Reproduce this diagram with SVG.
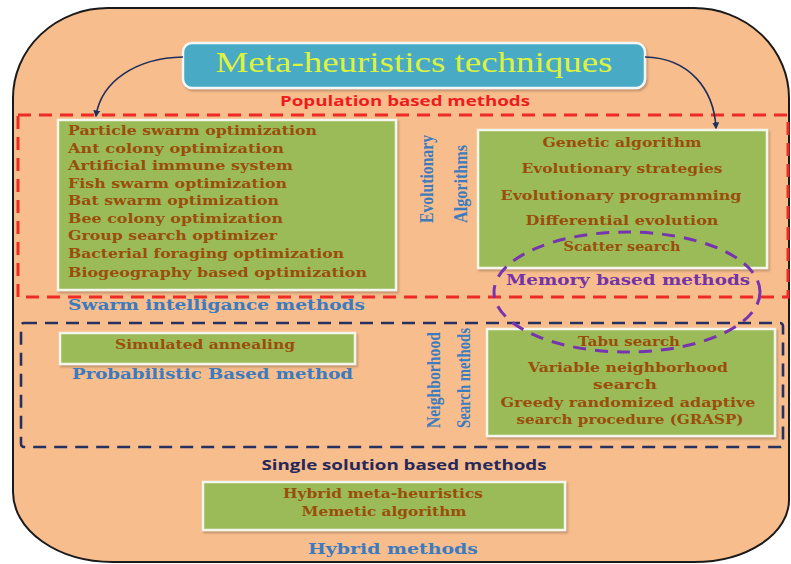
<svg xmlns="http://www.w3.org/2000/svg" width="791" height="564" viewBox="0 0 791 564">
  <defs>
    <marker id="arrowhead" viewBox="0 0 10 10" refX="8" refY="5" markerWidth="7" markerHeight="7" orient="auto-start-reverse" markerUnits="userSpaceOnUse">
      <path d="M0,0 L10,5 L0,10 z" fill="#1F2F5C"/>
    </marker>
    <filter id="shadow" x="-5%" y="-5%" width="115%" height="125%">
      <feDropShadow dx="1.5" dy="2" stdDeviation="1.2" flood-color="#7a5a40" flood-opacity="0.45"/>
    </filter>
  </defs>
  <style>
    .panel { fill: #9BBB59; stroke: #F4F6EC; stroke-width: 2.5; filter: url(#shadow); }
    .item { font-family: "DejaVu Serif", "Liberation Serif", serif; font-weight: bold; font-size: 13px; fill: #9A4E0C; }
    .memory { font-family: "DejaVu Serif", "Liberation Serif", serif; font-weight: bold; font-size: 15px; fill: #7434A6; }
    .mid { text-anchor: middle; }
    .group-label { font-family: "DejaVu Serif", "Liberation Serif", serif; font-weight: bold; font-size: 15px; fill: #3B7BBE; }
    .side-label { font-family: "Liberation Serif", "DejaVu Serif", serif; font-weight: bold; font-size: 19px; fill: #3B7BBE; }
    .sans-label { font-family: "Open Sans", "Liberation Sans", sans-serif; font-weight: bold; font-size: 14px; }
    .connector { fill: none; stroke: #1F2F5C; stroke-width: 1.6; }
  </style>

  <!-- outer rounded container -->
  <path d="M 108,8 H 694 A 95 90 0 0 1 789 98 V 500 A 95 62 0 0 1 694 562 H 113 A 100 70 0 0 1 13 492 V 98 A 95 90 0 0 1 108 8 Z"
        fill="#F8BD8D" stroke="#1A1A1A" stroke-width="2"/>

  <!-- population-based region -->
  <g id="population-region">
    <rect x="18" y="115" width="770" height="182" fill="none" stroke="#EE2A24" stroke-width="3" stroke-dasharray="13 8"/>
    <text class="sans-label mid" x="405" y="106" fill="#EE1C1C" textLength="250" lengthAdjust="spacingAndGlyphs">Population based methods</text>
  </g>

  <!-- single-solution region -->
  <g id="single-solution-region">
    <rect x="21" y="323" width="762" height="124" rx="3" fill="none" stroke="#27315F" stroke-width="2.6" stroke-dasharray="13 8"/>
    <text class="sans-label mid" x="404" y="470" fill="#27285A" textLength="285" lengthAdjust="spacingAndGlyphs">Single solution based methods</text>
  </g>

  <!-- root node -->
  <g id="meta-heuristics">
    <rect x="183" y="43" width="462" height="45" rx="9" fill="#4AAAC6" stroke="#F2F7FA" stroke-width="2.5" filter="url(#shadow)"/>
    <text x="414" y="72" text-anchor="middle" font-family="Liberation Serif, serif" font-size="29" fill="#DDF23C" textLength="397" lengthAdjust="spacingAndGlyphs">Meta-heuristics techniques</text>
  </g>

  <!-- swarm intelligence -->
  <g id="swarm-intelligence">
    <rect class="panel" x="58" y="120" width="338" height="170"/>
    <text class="item" x="68" y="135" textLength="249" lengthAdjust="spacingAndGlyphs">Particle swarm optimization</text>
    <text class="item" x="68" y="152.5" textLength="216" lengthAdjust="spacingAndGlyphs">Ant colony optimization</text>
    <text class="item" x="68" y="170" textLength="225" lengthAdjust="spacingAndGlyphs">Artificial immune system</text>
    <text class="item" x="68" y="187.5" textLength="219" lengthAdjust="spacingAndGlyphs">Fish swarm optimization</text>
    <text class="item" x="68" y="205" textLength="211" lengthAdjust="spacingAndGlyphs">Bat swarm optimization</text>
    <text class="item" x="68" y="222.5" textLength="215" lengthAdjust="spacingAndGlyphs">Bee colony optimization</text>
    <text class="item" x="68" y="240" textLength="209" lengthAdjust="spacingAndGlyphs">Group search optimizer</text>
    <text class="item" x="68" y="258" textLength="276" lengthAdjust="spacingAndGlyphs">Bacterial foraging optimization</text>
    <text class="item" x="68" y="277" textLength="299" lengthAdjust="spacingAndGlyphs">Biogeography based optimization</text>
    <text class="group-label" x="68" y="310" textLength="297" lengthAdjust="spacingAndGlyphs">Swarm intelligance methods</text>
  </g>

  <!-- evolutionary algorithms -->
  <g id="evolutionary-algorithms">
    <rect class="panel" x="478" y="130" width="289" height="138"/>
    <text class="item mid" x="622" y="147" textLength="159" lengthAdjust="spacingAndGlyphs">Genetic algorithm</text>
    <text class="item mid" x="622" y="173" textLength="201" lengthAdjust="spacingAndGlyphs">Evolutionary strategies</text>
    <text class="item mid" x="621" y="200" textLength="241" lengthAdjust="spacingAndGlyphs">Evolutionary programming</text>
    <text class="item mid" x="622" y="225" textLength="193" lengthAdjust="spacingAndGlyphs">Differential evolution</text>
    <text class="item mid" x="622" y="251" textLength="117" lengthAdjust="spacingAndGlyphs">Scatter search</text>
    <text class="side-label" transform="translate(433,223) rotate(-90)" textLength="88" lengthAdjust="spacingAndGlyphs">Evolutionary</text>
    <text class="side-label" transform="translate(467,223) rotate(-90)" textLength="78" lengthAdjust="spacingAndGlyphs">Algorithms</text>
  </g>

  <!-- probabilistic -->
  <g id="probabilistic">
    <rect class="panel" x="60" y="333" width="295" height="31"/>
    <text class="item mid" x="205" y="349" textLength="180" lengthAdjust="spacingAndGlyphs">Simulated annealing</text>
    <text class="group-label" x="72" y="379" textLength="281" lengthAdjust="spacingAndGlyphs">Probabilistic Based method</text>
  </g>

  <!-- neighborhood search -->
  <g id="neighborhood-search">
    <rect class="panel" x="487" y="329" width="288" height="107"/>
    <text class="item mid" x="629" y="346" textLength="102" lengthAdjust="spacingAndGlyphs">Tabu search</text>
    <text class="item mid" x="628" y="372" textLength="200" lengthAdjust="spacingAndGlyphs">Variable neighborhood</text>
    <text class="item mid" x="625" y="389" textLength="64" lengthAdjust="spacingAndGlyphs">search</text>
    <text class="item mid" x="628" y="407" textLength="255" lengthAdjust="spacingAndGlyphs">Greedy randomized adaptive</text>
    <text class="item mid" x="630" y="424" textLength="227" lengthAdjust="spacingAndGlyphs">search procedure (GRASP)</text>
    <text class="side-label" transform="translate(440,428) rotate(-90)" font-size="18" textLength="96" lengthAdjust="spacingAndGlyphs">Neighborhood</text>
    <text class="side-label" transform="translate(470,428) rotate(-90)" font-size="18" textLength="100" lengthAdjust="spacingAndGlyphs">Search methods</text>
  </g>

  <!-- memory-based -->
  <g id="memory-based">
    <ellipse cx="627" cy="292" rx="133" ry="60" fill="none" stroke="#7634AE" stroke-width="3" stroke-dasharray="13 9"/>
    <text class="memory mid" x="628" y="285" textLength="244" lengthAdjust="spacingAndGlyphs">Memory based methods</text>
  </g>

  <!-- hybrid -->
  <g id="hybrid">
    <rect class="panel" x="203" y="482" width="362" height="48"/>
    <text class="item mid" x="383" y="498" textLength="200" lengthAdjust="spacingAndGlyphs">Hybrid meta-heuristics</text>
    <text class="item mid" x="384" y="516" textLength="165" lengthAdjust="spacingAndGlyphs">Memetic algorithm</text>
    <text class="group-label mid" x="393" y="554" textLength="170" lengthAdjust="spacingAndGlyphs">Hybrid methods</text>
  </g>

  <!-- connectors -->
  <g id="connectors">
    <path class="connector" d="M 183,57 C 135,58 101,82 96,116" marker-end="url(#arrowhead)"/>
    <path class="connector" d="M 645,57 C 690,58 714,90 716,128" marker-end="url(#arrowhead)"/>
  </g>
</svg>
